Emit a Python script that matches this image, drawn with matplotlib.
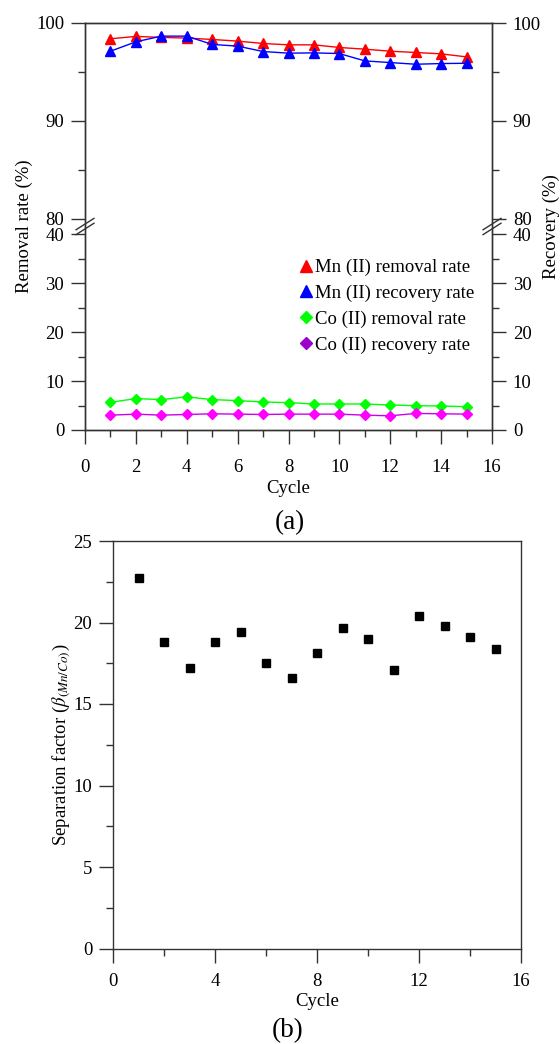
"""Mn/Co cycling test: removal/recovery rates (a) and separation factor (b)."""

import matplotlib
matplotlib.use("Agg")
import matplotlib.pyplot as plt
import numpy as np
from matplotlib.lines import Line2D
from matplotlib.ticker import FixedLocator

plt.rcParams["font.family"] = ["Liberation Serif", "DejaVu Serif"]
plt.rcParams["mathtext.fontset"] = "stix"

# ---- data ----
cycles = [1, 2, 3, 4, 5, 6, 7, 8, 9, 10, 11, 12, 13, 14, 15]
mn_removal = [98.39, 98.63, 98.53, 98.46, 98.32, 98.15, 97.91, 97.77, 97.77,
              97.50, 97.33, 97.12, 96.99, 96.85, 96.54]
mn_recovery = [97.12, 98.08, 98.66, 98.66, 97.81, 97.64, 97.09, 96.92, 96.95,
               96.88, 96.13, 95.96, 95.79, 95.86, 95.89]
co_removal = [5.66, 6.41, 6.21, 6.76, 6.21, 6.00, 5.72, 5.59, 5.31, 5.31,
              5.31, 5.10, 4.97, 4.90, 4.76]
co_recovery = [3.03, 3.24, 3.03, 3.17, 3.31, 3.24, 3.17, 3.24, 3.24, 3.24,
               3.03, 2.90, 3.38, 3.31, 3.24]
sep_factor = [22.74, 18.83, 17.19, 18.83, 19.40, 17.50, 16.62, 18.15, 19.66,
              18.97, 17.07, 20.40, 19.79, 19.09, 18.40]

series_labels = ["Mn (II) removal rate", "Mn (II) recovery rate",
                 "Co (II) removal rate", "Co (II) recovery rate"]

top_major = [0, 10, 20, 30, 40, 80, 90, 100]
top_minor = [5, 15, 25, 35, 85, 95]

FS = 13.5
AX_COL = "#333333"

# broken y axis: 0-40 linear, small gap, 80-100 at double scale
GAP = 3.1


def fwd(v):
    v = np.asarray(v, dtype=float)
    return np.where(v <= 40, v,
                    np.where(v >= 80, 40 + GAP + (v - 80) * 2,
                             40 + (v - 40) * GAP / 40))


def inv(u):
    u = np.asarray(u, dtype=float)
    return np.where(u <= 40, u,
                    np.where(u >= 40 + GAP, 80 + (u - 40 - GAP) / 2,
                             40 + (u - 40) * 40 / GAP))


def style_axis(ax):
    for s in ax.spines.values():
        s.set_color(AX_COL)
        s.set_linewidth(1.0)
    ax.tick_params(which="both", direction="out", color=AX_COL, width=1.0,
                   labelsize=FS, top=False, right=False)
    ax.tick_params(which="major", length=10)
    ax.tick_params(which="minor", length=5)


fig = plt.figure(figsize=(5.6, 10.44), dpi=100)
W, H = 560, 1044

# ---- (a) ----
ax = fig.add_axes([85 / W, 1 - 430 / H, (492 - 85) / W, (430 - 23) / H])
ax.set_yscale("function", functions=(fwd, inv))
ax.plot(cycles, mn_removal, color="#FF0000", lw=1.0, marker="^", ms=7.5, mec="#FF0000")
ax.plot(cycles, mn_recovery, color="#0000FF", lw=1.0, marker="^", ms=7.5, mec="#0000FF")
ax.plot(cycles, co_removal, color="#00FF00", lw=1.0, marker="D", ms=5.5, mec="#00FF00")
ax.plot(cycles, co_recovery, color="#CC00EE", lw=1.0, marker="D", ms=5.5,
        mfc="#FF00FF", mec="#FF00FF")
ax.set_xlim(0, 16)
ax.set_ylim(0, 100)
ax.xaxis.set_major_locator(FixedLocator(range(0, 17, 2)))
ax.xaxis.set_minor_locator(FixedLocator(range(1, 16, 2)))
ax.yaxis.set_major_locator(FixedLocator(top_major))
ax.yaxis.set_minor_locator(FixedLocator(top_minor))
ax.yaxis.set_major_formatter(plt.FuncFormatter(lambda v, p: f"{v:.0f}"))
ax.yaxis.set_minor_formatter(plt.NullFormatter())
style_axis(ax)
ax.tick_params(axis="x", pad=11)
ax.tick_params(axis="y", pad=5)
ax.set_xlabel("Cycle", fontsize=FS, labelpad=3)
ax.set_ylabel("Removal rate (%)", fontsize=FS, labelpad=2)

axr = ax.twinx()
axr.set_yscale("function", functions=(fwd, inv))
axr.set_ylim(0, 100)
axr.yaxis.set_major_locator(FixedLocator(top_major))
axr.yaxis.set_minor_locator(FixedLocator(top_minor))
axr.yaxis.set_major_formatter(plt.FuncFormatter(lambda v, p: f"{v:.0f}"))
axr.yaxis.set_minor_formatter(plt.NullFormatter())
for s in axr.spines.values():
    s.set_color(AX_COL)
    s.set_linewidth(1.0)
axr.tick_params(which="both", direction="out", color=AX_COL, width=1.0,
                labelsize=FS, pad=5)
axr.tick_params(which="major", length=10)
axr.tick_params(which="minor", length=5)
axr.set_ylabel("Recovery (%)", fontsize=FS, labelpad=1)

# break marks on both spines
mid = (40 + GAP / 2) / (80 + GAP)
for xs in (0, 1):
    for dy in (-0.006, 0.006):
        ax.plot([xs - 0.022, xs + 0.022], [mid + dy - 0.014, mid + dy + 0.014],
                transform=ax.transAxes, color=AX_COL, lw=1.0, clip_on=False)

handles = [
    Line2D([], [], ls="none", marker="^", ms=8, color="#FF0000"),
    Line2D([], [], ls="none", marker="^", ms=8, color="#0000FF"),
    Line2D([], [], ls="none", marker="D", ms=6.5, color="#00FF00"),
    Line2D([], [], ls="none", marker="D", ms=6.5, color="#9900CC"),
]
ax.legend(handles, series_labels, loc="upper left", frameon=False,
          fontsize=FS, handlelength=0.6, handletextpad=0.2, labelspacing=0.45,
          borderpad=0, borderaxespad=0,
          bbox_to_anchor=(300 / W, 1 - 259 / H), bbox_transform=fig.transFigure)

fig.text(290 / W, 1 - 523 / H, "(a)", fontsize=19.5, ha="center", va="center")

# ---- (b) ----
bx = fig.add_axes([113 / W, 1 - 948.5 / H, (521 - 113) / W, (948.5 - 541) / H])
bx.plot(cycles, sep_factor, ls="none", marker="s", ms=5.5, color="black")
bx.set_xlim(0, 16)
bx.set_ylim(0, 25)
bx.xaxis.set_major_locator(FixedLocator([0, 4, 8, 12, 16]))
bx.xaxis.set_minor_locator(FixedLocator([2, 6, 10, 14]))
bx.yaxis.set_major_locator(FixedLocator([0, 5, 10, 15, 20, 25]))
bx.yaxis.set_minor_locator(FixedLocator([2.5, 7.5, 12.5, 17.5, 22.5]))
style_axis(bx)
bx.tick_params(axis="x", pad=8)
bx.tick_params(axis="y", pad=5)
bx.set_xlabel("Cycle", fontsize=FS, labelpad=2)
bx.set_ylabel(r"Separation factor ($\beta_{(Mn/Co)}$)", fontsize=FS, labelpad=0)

fig.text(288 / W, 1 - 1031 / H, "(b)", fontsize=19.5, ha="center", va="center")

fig.savefig("out.png", dpi=100, facecolor="white")
